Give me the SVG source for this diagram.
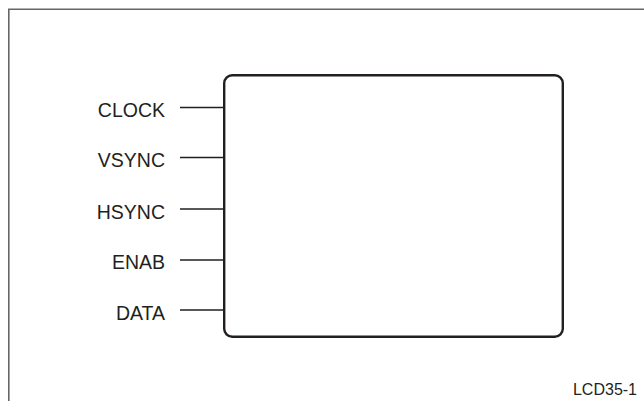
<svg xmlns="http://www.w3.org/2000/svg" width="644" height="401" viewBox="0 0 644 401">
<style>
.lbl{font-family:"Liberation Sans",Arial,sans-serif;font-size:19.5px;fill:#231f20;text-anchor:end}
.wire{stroke:#231f20;stroke-width:1.3;fill:none}
.box{stroke:#231f20;stroke-width:2.4;fill:#fff}
.frame{stroke:#666;stroke-width:1.6;fill:none}
</style>
<rect width="644" height="401" fill="#fff"/>
<path class="frame" d="M8.8,401 V9.2 H644"/>
<g id="block"><rect class="box" x="224.2" y="75.2" width="338.6" height="261.5" rx="8" ry="8"/></g>
<g id="connectors">
<line class="wire" x1="180" y1="107.5" x2="224" y2="107.5"/>
<line class="wire" x1="180" y1="157.5" x2="224" y2="157.5"/>
<line class="wire" x1="180" y1="209" x2="224" y2="209"/>
<line class="wire" x1="180" y1="260" x2="224" y2="260"/>
<line class="wire" x1="180" y1="310" x2="224" y2="310"/>
</g>
<g id="clock"><text class="lbl" x="165" y="117">CLOCK</text></g>
<g id="vsync"><text class="lbl" x="165" y="167">VSYNC</text></g>
<g id="hsync"><text class="lbl" x="165" y="218.5">HSYNC</text></g>
<g id="enab"><text class="lbl" x="165" y="269">ENAB</text></g>
<g id="data"><text class="lbl" x="165" y="319.5">DATA</text></g>
<g id="figid"><text x="637" y="395" style="font-family:'Liberation Sans',Arial,sans-serif;font-size:16px;fill:#231f20;text-anchor:end">LCD35-1</text></g>
</svg>
